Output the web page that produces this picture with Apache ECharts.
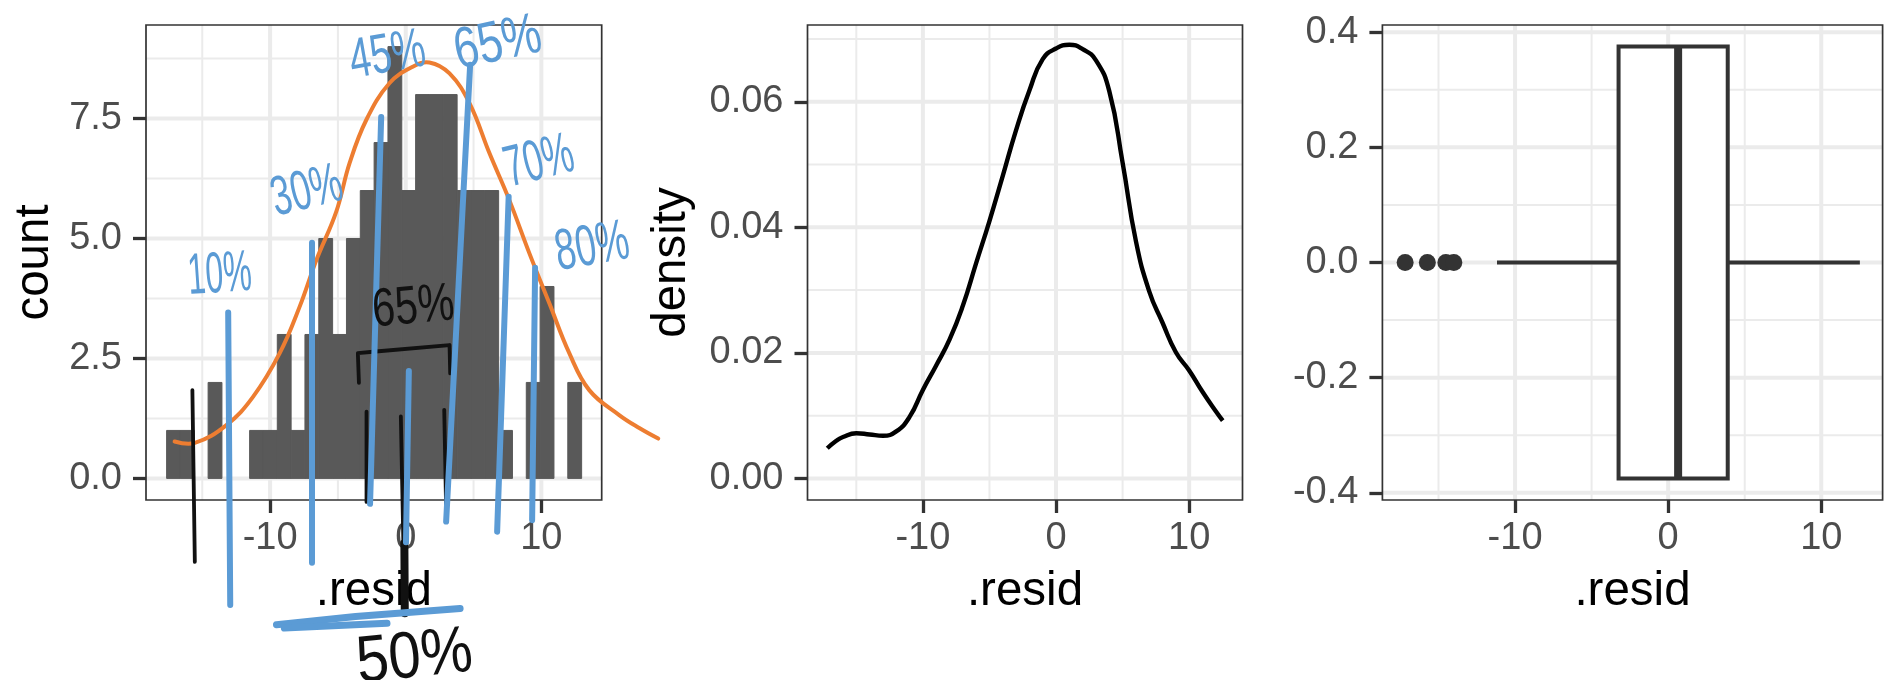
<!DOCTYPE html>
<html>
<head>
<meta charset="utf-8">
<script src="https://cdn.jsdelivr.net/npm/echarts@6/dist/echarts.min.js"></script>
<style>
  html, body { margin: 0; padding: 0; background: #ffffff; }
  #chart { width: 1885px; height: 680px; }
</style>
</head>
<body>
<div id="chart"></div>
<script>
// ---------- residual histogram (30 bins) ----------
const histBinStart = -17.63;
const histBinWidth = 1.02;
const histCounts = [1, 1, 0, 2, 0, 0, 1, 1, 3, 1, 3, 5, 3, 5, 6, 7, 9, 6, 8, 8, 8, 6, 6, 6, 1, 0, 2, 4, 0, 2];

// ---------- kernel density of the residuals ----------
const densityX = [-17.18, -16.5, -16, -15, -14, -13, -12, -11, -10, -9, -8, -7, -6, -5, -4, -3, -2, -1,
                  0, 1, 2, 3, 4, 5, 6, 7, 8, 9, 10, 11, 12, 12.52];
const densityY = [0.0048, 0.0060, 0.0066, 0.0072, 0.0070, 0.0068, 0.0075, 0.0098, 0.0141, 0.0180, 0.0221,
                  0.0275, 0.0343, 0.0410, 0.0482, 0.0555, 0.0618, 0.0668, 0.0685, 0.0691, 0.0684, 0.0666,
                  0.0617, 0.0503, 0.0378, 0.0298, 0.0248, 0.0201, 0.0172, 0.0138, 0.0107, 0.0092];

// ---------- boxplot summary ----------
// lower whisker, Q1, median, Q3, upper whisker
const boxFive = [-11.18, -3.24, 0.65, 3.89, 12.52];
const boxOutliers = [-17.18, -15.73, -14.52, -14.0];

// ---------- ticks ----------
const residTicks = [-10, 0, 10];
const residMinor = [-15, -5, 5];
const countTicks = [0, 2.5, 5, 7.5];
const countTickLabels = ['0.0', '2.5', '5.0', '7.5'];
const countMinor = [1.25, 3.75, 6.25, 8.75];
const densityTicks = [0, 0.02, 0.04, 0.06];
const densityTickLabels = ['0.00', '0.02', '0.04', '0.06'];
const densityMinor = [0.01, 0.03, 0.05, 0.07];
const boxTicks = [-0.4, -0.2, 0, 0.2, 0.4];
const boxTickLabels = ['-0.4', '-0.2', '0.0', '0.2', '0.4'];
const boxMinor = [-0.3, -0.1, 0.1, 0.3];

// ---------- pen notes over the histogram (histogram data units) ----------
const curveX = [-17.04, -15.55, -13.22, -11.26, -9.29, -7.82, -6.59, -5.12, -4.14, -2.91, -1.19, 0.52,
                1.75, 3.23, 4.70, 6.17, 7.64, 9.12, 10.59, 12.06, 13.53, 15.74, 17.22, 18.62];
const curveY = [0.77, 0.74, 1.11, 1.70, 2.61, 3.58, 4.55, 5.56, 6.57, 7.47, 8.24, 8.58,
                8.67, 8.44, 7.82, 6.78, 5.80, 4.69, 3.65, 2.61, 1.84, 1.32, 1.05, 0.83];
const blueStrokes = [
  [[-13.09, 3.46], [-12.94, -2.64]],
  [[-6.91, 4.91], [-6.91, -1.76]],
  [[-1.81, 7.53], [-2.63, -0.53]],
  [[0.23, 2.24], [0.02, -1.33]],
  [[4.75, 8.62], [2.98, -0.90]],
  [[7.59, 5.87], [6.74, -1.11]],
  [[9.54, 4.39], [9.32, -0.87]]
];
const blueUnderline = [
  [[-9.53, -3.05], [-3.70, -2.88], [4.01, -2.71]],
  [[-8.95, -3.12], [-1.38, -3.02]]
];
const blackStrokes = [
  [[-15.73, 1.84], [-15.55, -1.74]],
  [[-2.89, 1.39], [-2.89, -0.49]],
  [[-0.36, 1.29], [-0.07, -2.81]],
  [[2.84, 1.43], [2.99, -0.80]],
  [[-3.45, 1.99], [-3.53, 2.61], [-2.42, 2.64], [3.23, 2.78], [3.28, 2.19]]
];
const blackHeavy = [[[-0.10, -1.35], [-0.07, -2.81]]];
const noteText = ['10%', '30%', '45%', '65%', '70%', '80%', '65%', '50%'];
const noteX = [-13.71, -7.27, -1.34, 6.80, 9.85, 13.76, 0.57, 0.65];
const noteY = [4.22, 5.96, 8.80, 9.05, 6.58, 4.80, 3.55, -3.75];

// ---------- drawing styles ----------
const FONT = '"Liberation Sans", Arial, Helvetica, sans-serif';
const BLUE = '#5B9BD5';
const ORANGE = '#ED7D31';
const INK = '#111111';
// font size, horizontal squeeze, tilt (degrees), colour for each pen note
const noteStyle = [
  [58, 0.55, 4, BLUE], [56, 0.64, 14, BLUE], [56, 0.68, 10, BLUE], [58, 0.76, 12, BLUE],
  [58, 0.60, 14, BLUE], [58, 0.64, 10, BLUE], [54, 0.76, 5, INK], [66, 0.88, 6, INK]
];

// axis extents of the three panels
const histXRange = [-19.15, 14.45];
const histYRange = [-0.45, 9.45];
const residXRange = [-18.665, 14.005];
const densYRange = [-0.00344, 0.07224];
const boxYRange = [-0.4125, 0.4125];

function pick(values, labels) {
  return function (v) {
    let best = 0;
    for (let i = 1; i < values.length; i++) {
      if (Math.abs(values[i] - v) < Math.abs(values[best] - v)) best = i;
    }
    return labels[best];
  };
}

function xAxisOf(idx, range) {
  return {
    type: 'value', gridIndex: idx, position: 'bottom', min: range[0], max: range[1],
    axisLine: { show: false, onZero: false },
    axisTick: { show: true, customValues: residTicks, length: 13, lineStyle: { color: '#333333', width: 3.3 } },
    axisLabel: { customValues: residTicks, margin: 20, color: '#4D4D4D', fontSize: 38, fontFamily: FONT,
                 formatter: function (v) { return String(v); } },
    splitLine: { show: false },
    name: '.resid', nameLocation: 'middle', nameGap: 68,
    nameTextStyle: { color: '#000000', fontSize: 47.5, fontFamily: FONT }
  };
}

function yAxisOf(idx, range, ticks, labels, title, gap) {
  const ax = {
    type: 'value', gridIndex: idx, position: 'left', min: range[0], max: range[1],
    axisLine: { show: false, onZero: false },
    axisTick: { show: true, customValues: ticks, length: 13, lineStyle: { color: '#333333', width: 3.3 } },
    axisLabel: { customValues: ticks, margin: 24, color: '#4D4D4D', fontSize: 38, fontFamily: FONT,
                 formatter: pick(ticks, labels) },
    splitLine: { show: false }
  };
  if (title) {
    ax.name = title;
    ax.nameLocation = 'middle';
    ax.nameGap = gap;
    ax.nameTextStyle = { color: '#000000', fontSize: 47.5, fontFamily: FONT };
  }
  return ax;
}

// background grid lines (major + minor) and the panel frame
function panelSeries(idx, xr, yr, xMajor, xMinor, yMajor, yMinor) {
  const lines = [];
  xMinor.forEach(v => lines.push([0, v, 2]));
  yMinor.forEach(v => lines.push([1, v, 2]));
  xMajor.forEach(v => lines.push([0, v, 4]));
  yMajor.forEach(v => lines.push([1, v, 4]));
  return [{
    type: 'custom', xAxisIndex: idx, yAxisIndex: idx, z: 1, silent: true,
    data: lines,
    renderItem: function (params, api) {
      const kind = api.value(0), v = api.value(1), w = api.value(2);
      const a = kind === 0 ? api.coord([v, yr[0]]) : api.coord([xr[0], v]);
      const b = kind === 0 ? api.coord([v, yr[1]]) : api.coord([xr[1], v]);
      return { type: 'line', shape: { x1: a[0], y1: a[1], x2: b[0], y2: b[1] },
               style: { stroke: '#EBEBEB', lineWidth: w } };
    }
  }, {
    type: 'custom', xAxisIndex: idx, yAxisIndex: idx, z: 3, silent: true,
    data: [[xr[0], yr[1]]],
    renderItem: function (params, api) {
      const p0 = api.coord([xr[0], yr[1]]);
      const p1 = api.coord([xr[1], yr[0]]);
      return { type: 'rect', shape: { x: p0[0], y: p0[1], width: p1[0] - p0[0], height: p1[1] - p0[1] },
               style: { fill: 'none', stroke: '#333333', lineWidth: 1.7 } };
    }
  }];
}

// freehand strokes drawn in the histogram's data space
function strokeSeries(strokes, color, width, z, smooth) {
  return {
    type: 'custom', xAxisIndex: 0, yAxisIndex: 0, z: z, silent: true, clip: false,
    data: strokes.map(s => s[0]),
    renderItem: function (params, api) {
      const pts = strokes[params.dataIndex].map(p => api.coord(p));
      return { type: 'polyline', shape: { points: pts, smooth: smooth || 0 },
               style: { fill: 'none', stroke: color, lineWidth: width, lineCap: 'round', lineJoin: 'round' } };
    }
  };
}

const histData = histCounts.map((c, i) => [histBinStart + i * histBinWidth, c]);
const densityData = densityX.map((x, i) => [x, densityY[i]]);
const curvePoints = [curveX.map((x, i) => [x, curveY[i]])];
const noteData = noteX.map((x, i) => [x, noteY[i]]);

const option = {
  backgroundColor: '#ffffff',
  animation: false,
  grid: [
    { left: 146, top: 25, width: 455.7, height: 475, outerBoundsMode: 'none' },
    { left: 807.5, top: 25, width: 435, height: 475, outerBoundsMode: 'none' },
    { left: 1382.4, top: 25, width: 500.2, height: 475, outerBoundsMode: 'none' }
  ],
  xAxis: [
    xAxisOf(0, histXRange),
    xAxisOf(1, residXRange),
    xAxisOf(2, residXRange)
  ],
  yAxis: [
    yAxisOf(0, histYRange, countTicks, countTickLabels, 'count', 87),
    yAxisOf(1, densYRange, densityTicks, densityTickLabels, 'density', 112),
    yAxisOf(2, boxYRange, boxTicks, boxTickLabels, null, 0)
  ],
  series: [].concat(
    panelSeries(0, histXRange, histYRange, residTicks, residMinor, countTicks, countMinor),
    panelSeries(1, residXRange, densYRange, residTicks, residMinor, densityTicks, densityMinor),
    panelSeries(2, residXRange, boxYRange, residTicks, residMinor, boxTicks, boxMinor),
    [
      // histogram bars
      {
        type: 'custom', xAxisIndex: 0, yAxisIndex: 0, z: 2,
        data: histData,
        renderItem: function (params, api) {
          const x0 = api.value(0), c = api.value(1);
          if (!c) return null;
          const p0 = api.coord([x0, c]);
          const p1 = api.coord([x0 + histBinWidth, 0]);
          return { type: 'rect', shape: { x: p0[0], y: p0[1], width: p1[0] - p0[0], height: p1[1] - p0[1] },
                   style: { fill: '#595959', stroke: '#595959', lineWidth: 1 } };
        }
      },
      // density curve
      {
        type: 'line', xAxisIndex: 1, yAxisIndex: 1, z: 2,
        data: densityData, smooth: 0.5, showSymbol: false, symbol: 'none',
        lineStyle: { color: '#000000', width: 4.4 }
      },
      // box, whiskers and median
      {
        type: 'custom', xAxisIndex: 2, yAxisIndex: 2, z: 2,
        data: [boxFive],
        renderItem: function (params, api) {
          const lo = api.value(0), q1 = api.value(1), med = api.value(2), q3 = api.value(3), hi = api.value(4);
          const tl = api.coord([q1, 0.375]);
          const br = api.coord([q3, -0.375]);
          const wl0 = api.coord([lo, 0]), wl1 = api.coord([q1, 0]);
          const wr0 = api.coord([q3, 0]), wr1 = api.coord([hi, 0]);
          const mt = api.coord([med, 0.375]), mb = api.coord([med, -0.375]);
          const st = { stroke: '#333333', lineWidth: 4 };
          return {
            type: 'group',
            children: [
              { type: 'line', shape: { x1: wl0[0], y1: wl0[1], x2: wl1[0], y2: wl1[1] }, style: st },
              { type: 'line', shape: { x1: wr0[0], y1: wr0[1], x2: wr1[0], y2: wr1[1] }, style: st },
              { type: 'rect', shape: { x: tl[0], y: tl[1], width: br[0] - tl[0], height: br[1] - tl[1] },
                style: { fill: '#ffffff', stroke: '#333333', lineWidth: 4 } },
              { type: 'line', shape: { x1: mt[0], y1: mt[1], x2: mb[0], y2: mb[1] },
                style: { stroke: '#333333', lineWidth: 8 } }
            ]
          };
        }
      },
      // outliers
      {
        type: 'scatter', xAxisIndex: 2, yAxisIndex: 2, z: 3,
        data: boxOutliers.map(v => [v, 0]),
        symbol: 'circle', symbolSize: 17,
        itemStyle: { color: '#333333', opacity: 1 }
      },
      // freehand bell curve (runs past the panel edge)
      strokeSeries(curvePoints, ORANGE, 4, 4, 0.4),
      strokeSeries(blackStrokes, INK, 3.8, 5),
      strokeSeries(blackHeavy, INK, 8, 5),
      strokeSeries(blueStrokes, BLUE, 6, 6),
      strokeSeries(blueUnderline, BLUE, 7, 6),
      // handwritten percentages
      {
        type: 'custom', xAxisIndex: 0, yAxisIndex: 0, z: 7, silent: true, clip: false,
        data: noteData,
        renderItem: function (params, api) {
          const i = params.dataIndex;
          const p = api.coord([api.value(0), api.value(1)]);
          const s = noteStyle[i];
          return {
            type: 'text', x: p[0], y: p[1], rotation: s[2] * Math.PI / 180, scaleX: s[1],
            style: { text: noteText[i], fill: s[3], fontSize: s[0], fontFamily: FONT,
                     align: 'center', verticalAlign: 'middle' }
          };
        }
      }
    ]
  )
};

const chart = echarts.init(document.getElementById('chart'), null, { renderer: 'canvas' });
chart.setOption(option);
</script>
</body>
</html>
